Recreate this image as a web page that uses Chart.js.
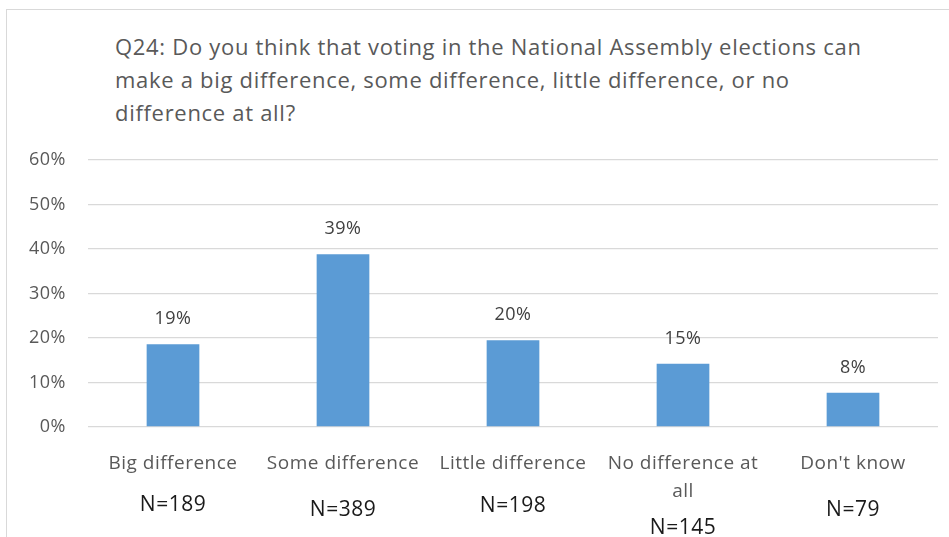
<!DOCTYPE html>
<html>
<head>
<meta charset="utf-8">
<script src="https://cdn.jsdelivr.net/npm/chart.js@4"></script>
<style>
    html, body { margin: 0; padding: 0; background: #fff; overflow: hidden; }
    #wrap { position: relative; width: 949px; height: 537px; }
    #frame { position: absolute; left: 6px; top: 9px; width: 960px; height: 560px; border: 1.5px solid #d9d9d9; box-sizing: border-box; }
    #title { position: absolute; left: 115px; top: 30px; width: 820px; font-family: 'Open Sans', sans-serif; font-size: 22px; letter-spacing: 0.7px; line-height: 33px; color: #595959; white-space: nowrap; }
    canvas { position: absolute; left: 0; top: 0; }
</style>
</head>
<body>
<div id="wrap">
    <div id="frame"></div>
    <div id="title">Q24: Do you think that voting in the National Assembly elections can<br>make a big difference, some difference, little difference, or no<br>difference at all?</div>
    <canvas id="chart" width="949" height="537"></canvas>
</div>
<script>
const categories = [
    ['Big difference'],
    ['Some difference'],
    ['Little difference'],
    ['No difference at', 'all'],
    ["Don't know"]
];
const shares = [18.6, 38.8, 19.5, 14.2, 7.7];
const shareLabels = ['19%', '39%', '20%', '15%', '8%'];
const sampleSizes = ['N=189', 'N=389', 'N=198', 'N=145', 'N=79'];
const yTicks = [0, 10, 20, 30, 40, 50, 60];

// N= boxes sit at slightly different heights in the original
const nLabelY = [505, 510, 506, 528, 510];

const fontFamily = "'Open Sans', sans-serif";

// original text is spaced a bit wider than Open Sans
const spacing = {
    id: 'spacing',
    beforeDraw(chart) { chart.ctx.letterSpacing = '0.5px'; }
};

const valueLabels = {
    id: 'valueLabels',
    afterDatasetsDraw(chart) {
        const ctx = chart.ctx;
        const meta = chart.getDatasetMeta(0);
        ctx.save();
        ctx.font = '18px ' + fontFamily;
        ctx.fillStyle = '#404040';
        ctx.textAlign = 'center';
        ctx.textBaseline = 'middle';
        meta.data.forEach((bar, i) => {
            ctx.fillText(shareLabels[i], bar.x, bar.y - 25);
        });
        ctx.restore();
    }
};

const sampleLabels = {
    id: 'sampleLabels',
    afterDraw(chart) {
        const ctx = chart.ctx;
        const xScale = chart.scales.x;
        ctx.save();
        ctx.font = '21px ' + fontFamily;
        ctx.fillStyle = '#1a1a1a';
        ctx.textAlign = 'center';
        ctx.textBaseline = 'middle';
        sampleSizes.forEach((txt, i) => {
            ctx.fillText(txt, xScale.getPixelForValue(i), nLabelY[i]);
        });
        ctx.restore();
    }
};

new Chart(document.getElementById('chart'), {
    type: 'bar',
    data: {
        labels: categories,
        datasets: [{
            data: shares,
            backgroundColor: '#5b9bd5',
            borderWidth: 0,
            barPercentage: 0.31,
            categoryPercentage: 1
        }]
    },
    options: {
        responsive: false,
        animation: false,
        layout: { padding: { top: 160, right: 11, left: 0, bottom: 0 } },
        plugins: {
            legend: { display: false },
            tooltip: { enabled: false }
        },
        scales: {
            x: {
                grid: { display: false },
                border: { display: false },
                afterFit: scale => { scale.height = 110; },
                ticks: {
                    padding: 14,
                    maxRotation: 0,
                    autoSkip: false,
                    color: '#595959',
                    font: { family: fontFamily, size: 19, lineHeight: 1.5 }
                }
            },
            y: {
                min: 0,
                max: 60,
                afterFit: scale => { scale.width = 88; },
                afterBuildTicks: scale => { scale.ticks = yTicks.map(v => ({ value: v })); },
                grid: { color: '#d9d9d9', lineWidth: 1.3, drawTicks: false },
                border: { display: false },
                ticks: {
                    padding: 22,
                    color: '#595959',
                    font: { family: fontFamily, size: 18 },
                    callback: v => v + '%'
                }
            }
        }
    },
    plugins: [spacing, valueLabels, sampleLabels]
});
</script>
</body>
</html>
